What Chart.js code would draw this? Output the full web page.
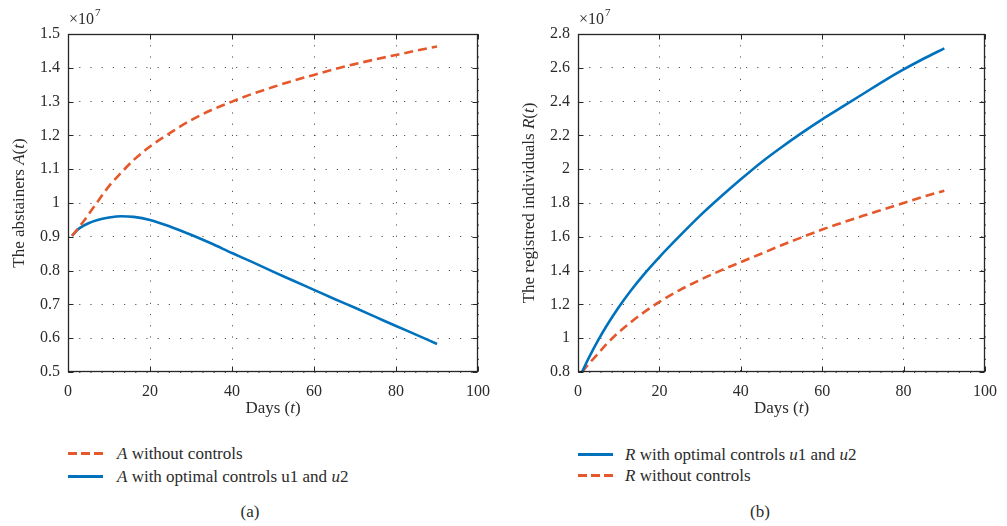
<!DOCTYPE html>
<html>
<head>
<meta charset="utf-8" />
<title>Abstainers and registred individuals</title>
<script src="https://cdn.jsdelivr.net/npm/chart.js@4"></script>
<style>
  body { margin: 0; background: #fff; font-family: "Liberation Serif", "DejaVu Serif", serif; color: #2b2b2b; }
  #page { position: relative; width: 1007px; height: 526px; overflow: hidden; }
  canvas { position: absolute; top: 0; }
  .swatch { position: absolute; width: 35px; height: 3px; }
  .solid { background: #0072BD; }
  .dashed { background: repeating-linear-gradient(to right, #E5582B 0 9px, transparent 9px 13px); }
  .txt { position: absolute; font-size: 17px; line-height: 22px; white-space: nowrap; }
  .cap { position: absolute; font-size: 17px; line-height: 22px; width: 60px; text-align: center; }
</style>
</head>
<body>
<div id="page">
  <canvas id="chartA" width="500" height="430" style="left:0"></canvas>
  <canvas id="chartR" width="507" height="430" style="left:500px"></canvas>

  <div class="swatch dashed" style="left:68px; top:452px"></div>
  <div class="txt" style="left:117px; top:443px"><i>A</i> without controls</div>
  <div class="swatch solid" style="left:68px; top:475px"></div>
  <div class="txt" style="left:117px; top:466px"><i>A</i> with optimal controls u1 and <i>u</i>2</div>
  <div class="cap" style="left:220px; top:501px">(a)</div>

  <div class="swatch solid" style="left:578px; top:453px"></div>
  <div class="txt" style="left:625px; top:444px"><i>R</i> with optimal controls <i>u</i>1 and <i>u</i>2</div>
  <div class="swatch dashed" style="left:578px; top:474px"></div>
  <div class="txt" style="left:625px; top:465px"><i>R</i> without controls</div>
  <div class="cap" style="left:730px; top:501px">(b)</div>
</div>
<script>
  // values are in units of 10^7
  const days = [1, 2, 3, 5, 7, 10, 13, 16, 20, 25, 30, 35, 40, 45, 50, 55, 60, 65, 70, 75, 80, 85, 90];

  const aWithout = [0.903, 0.918, 0.933, 0.966, 1.0, 1.05, 1.09, 1.127, 1.167, 1.208, 1.245, 1.275, 1.3,
    1.323, 1.343, 1.362, 1.379, 1.396, 1.411, 1.425, 1.438, 1.451, 1.463];
  const aWith = [0.903, 0.917, 0.927, 0.94, 0.949, 0.957, 0.961, 0.959, 0.95, 0.93, 0.906, 0.88, 0.852,
    0.825, 0.797, 0.77, 0.743, 0.716, 0.69, 0.663, 0.636, 0.61, 0.583];

  const rWith = [0.8, 0.852, 0.9, 0.99, 1.072, 1.183, 1.282, 1.372, 1.48, 1.605, 1.725, 1.835, 1.94,
    2.04, 2.13, 2.215, 2.295, 2.37, 2.445, 2.52, 2.59, 2.655, 2.715];
  const rWithout = [0.8, 0.83, 0.858, 0.91, 0.965, 1.035, 1.095, 1.15, 1.215, 1.285, 1.345, 1.4, 1.45,
    1.5, 1.55, 1.597, 1.643, 1.684, 1.724, 1.762, 1.8, 1.838, 1.873];

  const BLUE = "#0072BD";
  const ORANGE = "#E5582B";
  const TEXT = "#2b2b2b";
  const SERIF = "'Liberation Serif', 'DejaVu Serif', serif";

  function points(ys) {
    return days.map((d, i) => ({ x: d, y: ys[i] }));
  }

  function drawRich(ctx, parts, x, y, size) {
    let total = 0;
    parts.forEach(p => {
      ctx.font = (p[1] ? "italic " : "") + size + "px " + SERIF;
      total += ctx.measureText(p[0]).width;
    });
    let cx = x - total / 2;
    parts.forEach(p => {
      ctx.font = (p[1] ? "italic " : "") + size + "px " + SERIF;
      ctx.fillText(p[0], cx, y);
      cx += ctx.measureText(p[0]).width;
    });
  }

  // box, inward ticks, axis titles and the x10^7 exponent
  const frame = {
    id: "frame",
    afterDraw(chart, args, opts) {
      const ctx = chart.ctx;
      const a = chart.chartArea;
      const xs = chart.scales.x, ys = chart.scales.y;
      const L = Math.round(a.left) + 0.5, R = Math.round(a.right) - 0.5;
      const T = Math.round(a.top) + 0.5, B = Math.round(a.bottom) - 0.5;
      ctx.save();
      ctx.strokeStyle = "#262626";
      ctx.lineWidth = 1;
      ctx.beginPath();
      xs.ticks.forEach(t => {
        const px = Math.round(xs.getPixelForValue(t.value)) + 0.5;
        ctx.moveTo(px, B); ctx.lineTo(px, B - 5);
        ctx.moveTo(px, T); ctx.lineTo(px, T + 5);
      });
      ys.ticks.forEach(t => {
        const py = Math.round(ys.getPixelForValue(t.value)) + 0.5;
        ctx.moveTo(L, py); ctx.lineTo(L + 5, py);
        ctx.moveTo(R, py); ctx.lineTo(R - 5, py);
      });
      ctx.stroke();
      ctx.lineWidth = 1.3;
      ctx.strokeRect(L, T, R - L, B - T);

      ctx.fillStyle = TEXT;
      ctx.textBaseline = "middle";
      drawRich(ctx, opts.xTitle, (a.left + a.right) / 2, 409, 17);

      ctx.save();
      ctx.translate(opts.yTitleX, (a.top + a.bottom) / 2);
      ctx.rotate(-Math.PI / 2);
      drawRich(ctx, opts.yTitle, 0, 0, 17);
      ctx.restore();

      ctx.textBaseline = "alphabetic";
      ctx.font = "16px " + SERIF;
      ctx.fillText("\u00d710", a.left + 1, 24);
      const w = ctx.measureText("\u00d710").width;
      ctx.font = "11px " + SERIF;
      ctx.fillText("7", a.left + 2 + w, 16);
      ctx.restore();
    }
  };

  function makeChart(id, sets, yMin, yMax, yStep, yWidth, padRight, xTitle, yTitle, yTitleX) {
    const tickFont = { family: SERIF, size: 16 };
    return new Chart(document.getElementById(id).getContext("2d"), {
      type: "line",
      data: { datasets: sets },
      plugins: [frame],
      options: {
        responsive: false,
        animation: false,
        layout: { padding: { left: 0, top: 34, right: padRight, bottom: 0 } },
        plugins: {
          legend: { display: false },
          tooltip: { enabled: false },
          frame: { xTitle: xTitle, yTitle: yTitle, yTitleX: yTitleX },
        },
        elements: { point: { radius: 0 } },
        scales: {
          x: {
            type: "linear",
            min: 0,
            max: 100,
            ticks: { stepSize: 20, font: tickFont, color: TEXT, padding: 10 },
            grid: { color: "rgba(30,30,30,0.75)", lineWidth: 1, drawTicks: false },
            border: { display: false, dash: [1.2, 10] },
            afterFit: s => { s.height = 58; },
          },
          y: {
            min: yMin,
            max: yMax,
            ticks: {
              stepSize: yStep,
              font: tickFont,
              color: TEXT,
              padding: 8,
              callback: v => String(Math.round(v * 100) / 100),
            },
            grid: { color: "rgba(30,30,30,0.75)", lineWidth: 1, drawTicks: false },
            border: { display: false, dash: [1.2, 10] },
            afterFit: s => { s.width = yWidth; },
          },
        },
      },
    });
  }

  makeChart("chartA", [
    {
      label: "A without controls",
      data: points(aWithout),
      borderColor: ORANGE,
      borderWidth: 2.6,
      borderDash: [9, 5],
      cubicInterpolationMode: "monotone",
    },
    {
      label: "A with optimal controls u1 and u2",
      data: points(aWith),
      borderColor: BLUE,
      borderWidth: 2.6,
      cubicInterpolationMode: "monotone",
    },
  ], 0.5, 1.5, 0.1, 68, 21,
    [["Days (", false], ["t", true], [")", false]],
    [["The abstainers ", false], ["A", true], ["(", false], ["t", true], [")", false]], 20);

  makeChart("chartR", [
    {
      label: "R with optimal controls u1 and u2",
      data: points(rWith),
      borderColor: BLUE,
      borderWidth: 2.6,
      cubicInterpolationMode: "monotone",
    },
    {
      label: "R without controls",
      data: points(rWithout),
      borderColor: ORANGE,
      borderWidth: 2.6,
      borderDash: [9, 5],
      cubicInterpolationMode: "monotone",
    },
  ], 0.8, 2.8, 0.2, 78, 19,
    [["Days (", false], ["t", true], [")", false]],
    [["The registred individuals ", false], ["R", true], ["(", false], ["t", true], [")", false]], 30);
</script>
</body>
</html>
